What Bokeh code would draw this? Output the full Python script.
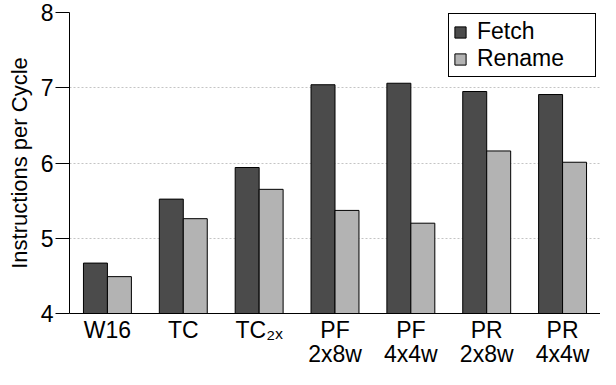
from bokeh.plotting import figure
from bokeh.models import ColumnDataSource, Legend, LegendItem, FixedTicker
from bokeh.transform import dodge
from bokeh.embed import file_html
from bokeh.resources import INLINE

categories = ["W16", "TC", "TC\u2082\u2093", "PF\n2x8w", "PF\n4x4w", "PR\n2x8w", "PR\n4x4w"]
fetch = [4.67, 5.52, 5.94, 7.04, 7.06, 6.95, 6.91]
rename = [4.49, 5.26, 5.65, 5.37, 5.20, 6.16, 6.01]
y_ticks = [4, 5, 6, 7, 8]

src = ColumnDataSource(dict(cat=categories, fetch=fetch, rename=rename))

FONT = "Liberation Sans"
FS = "23px"
p = figure(x_range=categories, y_range=(4, 8), width=600, height=369,
           output_backend="svg", toolbar_location=None,
           min_border_left=69, min_border_right=0, min_border_top=12, min_border_bottom=30)
p.outline_line_color = None
p.background_fill_color = "white"

r1 = p.vbar(x=dodge("cat", -0.158, range=p.x_range), top="fetch", bottom=4, width=0.316,
            source=src, fill_color="#4b4b4b", line_color="black", line_width=1)
r2 = p.vbar(x=dodge("cat", 0.158, range=p.x_range), top="rename", bottom=4, width=0.316,
            source=src, fill_color="#b3b3b3", line_color="black", line_width=1)

p.xgrid.grid_line_color = None
p.ygrid.grid_line_color = "#c4c4c4"
p.ygrid.grid_line_dash = "2 2"
p.ygrid.level = "underlay"

p.yaxis.ticker = FixedTicker(ticks=y_ticks)
p.yaxis.minor_tick_line_color = None
p.yaxis.major_tick_out = 14
p.yaxis.major_tick_in = 0
p.yaxis.major_label_standoff = 2
p.yaxis.major_label_text_font = FONT
p.yaxis.major_label_text_font_size = FS
p.yaxis.major_label_text_color = "black"
p.yaxis.axis_line_color = "black"
p.yaxis.major_tick_line_color = "black"
p.yaxis.axis_label = "Instructions per Cycle"
p.yaxis.axis_label_text_font = FONT
p.yaxis.axis_label_text_font_style = "normal"
p.yaxis.axis_label_text_font_size = "22px"
p.yaxis.axis_label_text_color = "black"
p.yaxis.axis_label_standoff = 6

p.xaxis.major_tick_line_color = None
p.xaxis.major_tick_out = 0
p.xaxis.axis_line_color = "black"
p.xaxis.major_label_text_font = FONT
p.xaxis.major_label_text_font_size = FS
p.xaxis.major_label_text_line_height = 0.93
p.xaxis.major_label_text_color = "black"
p.xaxis.major_label_standoff = 3

legend = Legend(items=[LegendItem(label="Fetch", renderers=[r1]),
                       LegendItem(label="Rename", renderers=[r2])],
                location=(379, 236))
legend.border_line_color = "black"
legend.border_line_alpha = 1.0
legend.border_line_width = 1.3
legend.label_text_font = FONT
legend.label_text_font_size = FS
legend.label_text_line_height = 1.0
legend.label_text_color = "black"
legend.label_text_baseline = "middle"
legend.glyph_width = 14
legend.glyph_height = 14
legend.label_height = 21
legend.label_width = 114
legend.spacing = 0
legend.padding = 4
legend.margin = 0
legend.label_standoff = 10
legend.background_fill_color = "white"
legend.background_fill_alpha = 1
p.add_layout(legend, "center")

open("out.html", "w").write(file_html(p, INLINE))
